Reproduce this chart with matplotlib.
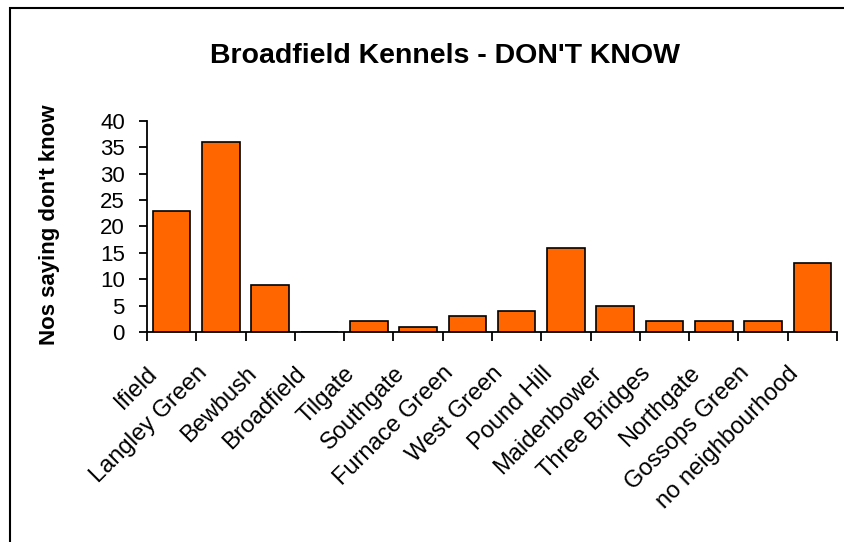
import matplotlib.pyplot as plt
from matplotlib.patches import Rectangle
import matplotlib.transforms as mtransforms
import numpy as np

plt.rcParams['font.family'] = ['Liberation Sans', 'DejaVu Sans']

areas = ['Ifield', 'Langley Green', 'Bewbush', 'Broadfield', 'Tilgate', 'Southgate',
         'Furnace Green', 'West Green', 'Pound Hill', 'Maidenbower', 'Three Bridges',
         'Northgate', 'Gossops Green', 'no neighbourhood']
dont_know = [23, 36, 9, 0, 2, 1, 3, 4, 16, 5, 2, 2, 2, 13]
y_ticks = [0, 5, 10, 15, 20, 25, 30, 35, 40]


def main():
    fig = plt.figure(figsize=(8.44, 5.42), dpi=100)
    W, H = 844, 542
    ax = fig.add_axes([147 / W, 1 - 332 / H, (837 - 147) / W, (332 - 121) / H])

    x = np.arange(len(areas))
    ax.bar(x, dont_know, width=0.76, color='#FF6600', edgecolor='black', linewidth=1.2, zorder=3)

    ax.set_xlim(-0.5, len(areas) - 0.5)
    ax.set_ylim(0, 40)
    ax.set_yticks(y_ticks)
    ax.set_yticklabels([str(v) for v in y_ticks], fontsize=16)

    # tick marks sit between categories, labels go under each bar
    ax.set_xticks(np.arange(len(areas) + 1) - 0.5)
    ax.set_xticklabels([])
    ax.tick_params(axis='x', direction='out', length=6.5, width=1.3)
    ax.tick_params(axis='y', direction='out', length=6, width=1.3, pad=10)

    offset = mtransforms.ScaledTranslation(-0.17, -0.38, fig.dpi_scale_trans)
    for i, name in enumerate(areas):
        ax.text(i, 0, name, rotation=45, ha='right', va='center', rotation_mode='anchor',
                fontsize=17, transform=ax.transData + offset)

    for side in ['top', 'right']:
        ax.spines[side].set_visible(False)
    for side in ['left', 'bottom']:
        ax.spines[side].set_linewidth(1.3)

    fig.text(445 / W, 1 - 63 / H, "Broadfield Kennels - DON'T KNOW", ha='center', va='baseline',
             fontsize=20.5, fontweight='bold')
    fig.text(50 / W, 1 - 225 / H, "Nos saying don't know", ha='center', va='center',
             rotation=90, fontsize=16, fontweight='bold')

    # outer chart frame (right and bottom edges fall off the picture)
    fig.patches.append(Rectangle((9.5 / W, -0.1), 1.2, 1 - 7.5 / H + 0.1, transform=fig.transFigure,
                                 fill=False, edgecolor='black', linewidth=1.5))

    fig.savefig('out.png', dpi=100)


if __name__ == '__main__':
    main()
